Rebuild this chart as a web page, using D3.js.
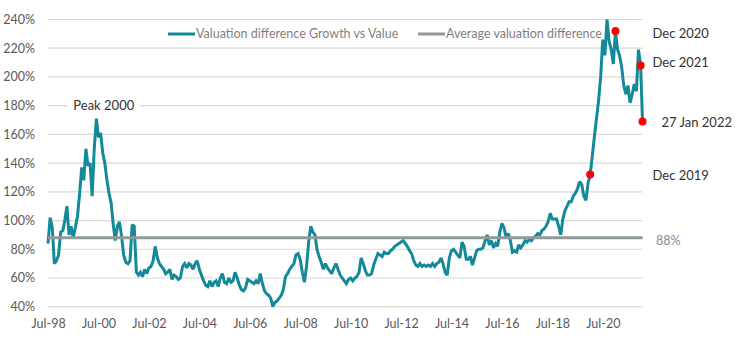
<!DOCTYPE html>
<html>
<head>
<meta charset="utf-8">
<script src="https://cdn.jsdelivr.net/npm/d3@7"></script>
<style>
  body { margin: 0; background: #fff; }
  svg { display: block; font-family: Lato, "Open Sans", sans-serif; }
</style>
</head>
<body>
<div class="chart"></div>
<script>
// month-end values, starting Jun 1998
const firstMonth = new Date(1998, 6, 1);
const monthlyValues = [
  84, 102, 95, 70, 72, 76, 92,                        // 1998 Jun-Dec
  93, 100, 110, 90, 96, 88, 95, 103, 118, 137, 128, 150, // 1999
  138, 140, 117, 150, 171, 158, 161, 147, 140, 128, 119, 112, // 2000
  97, 86, 96, 99, 89, 76, 71, 70, 72, 97, 96, 64,     // 2001
  62, 64, 61, 66, 63, 67, 68, 72, 82, 74, 70, 68,     // 2002
  66, 63, 64, 66, 59, 62, 61, 59, 60, 68, 70, 67,     // 2003
  70, 69, 66, 70, 72, 66, 62, 58, 55, 54, 58, 54,     // 2004
  57, 58, 54, 60, 63, 57, 56, 60, 57, 58, 64, 60,     // 2005
  55, 52, 51, 53, 59, 58, 57, 56, 58, 56, 63, 56,     // 2006
  51, 49, 48, 46, 40, 43, 44, 46, 48, 52, 61, 63,     // 2007
  66, 68, 70, 76, 77, 73, 64, 57, 68, 85, 96, 92,     // 2008
  90, 80, 75, 71, 66, 70, 67, 65, 63, 67, 70, 66,     // 2009
  62, 60, 58, 56, 59, 60, 58, 60, 61, 64, 74, 70,     // 2010
  65, 62, 62, 63, 69, 73, 77, 76, 75, 78, 77, 77,     // 2011
  79, 80, 82, 83, 84, 85, 86, 84, 82, 79, 77, 72,     // 2012
  69, 68, 70, 68, 69, 68, 69, 68, 70, 68, 70, 71,     // 2013
  74, 70, 64, 62, 74, 79, 80, 78, 76, 74, 85, 82,     // 2014
  73, 73, 75, 69, 74, 79, 80, 80, 81, 86, 90, 83,     // 2015
  86, 81, 84, 82, 92, 98, 95, 88, 91, 86, 78, 79,     // 2016
  78, 83, 81, 83, 86, 85, 87, 86, 88, 89, 91, 90,     // 2017
  93, 94, 96, 99, 105, 101, 101, 101, 96, 90, 101, 107, // 2018
  110, 113, 113, 117, 119, 122, 127, 125, 117, 114, 126, 132, // 2019
  145, 158, 171, 183, 200, 226, 215, 240, 225, 219, 209, 232, // 2020
  219, 215, 207, 194, 188, 194, 182, 188, 195, 190, 219, 208  // 2021
];
const lastDate = "2022-01-27";
const lastValue = 169;

const averageValue = 88;

const markerDates = ["2019-12-31", "2020-12-31", "2021-12-31", "2022-01-27"];
const markerValues = [132, 232, 208, 169];
const markerLabels = ["Dec 2019", "Dec 2020", "Dec 2021", "27 Jan 2022"];
const markerLabelShift = [0, 0, 0, 9];

const yTicks = [40, 60, 80, 100, 120, 140, 160, 180, 200, 220, 240];
const xTickYears = [1998, 2000, 2002, 2004, 2006, 2008, 2010, 2012, 2014, 2016, 2018, 2020];

const legendNames = ["Valuation difference Growth vs Value", "Average valuation difference"];

// setup chart
const width = 750;
const height = 339;
const plotLeft = 48;
const plotRight = 642.5;
const plotTop = 19.5;
const plotBottom = 306.7;
const teal = "#14899a";
const grey = "#8f9a9a";
const parse = d3.timeParse("%Y-%m-%d");

const svg = d3.select(".chart")
  .append("svg")
  .attr("width", width)
  .attr("height", height);

const series = monthlyValues.map((v, i) => ({
  date: d3.timeDay.offset(d3.timeMonth.offset(firstMonth, i), -1),
  value: v
}));
series.push({ date: parse(lastDate), value: lastValue });

const xScale = d3.scaleTime()
  .domain([series[0].date, parse(lastDate)])
  .range([plotLeft, plotRight]);
const yScale = d3.scaleLinear()
  .domain([40, 240])
  .range([plotBottom, plotTop]);

// gridlines
svg.append("g")
  .selectAll("line")
  .data(yTicks)
  .join("line")
  .attr("x1", plotLeft)
  .attr("x2", plotRight)
  .attr("y1", d => yScale(d))
  .attr("y2", d => yScale(d))
  .attr("stroke", "#d9d9d9")
  .attr("stroke-width", 1.2);

// y axis
const yAxis = d3.axisLeft(yScale)
  .tickValues(yTicks)
  .tickSize(0)
  .tickPadding(0)
  .tickFormat(d => d + "%");
svg.append("g")
  .attr("transform", "translate(35,0)")
  .call(yAxis)
  .call(g => g.select(".domain").remove())
  .call(g => g.selectAll("text")
    .attr("fill", "#595959")
    .attr("font-size", 12.5)
    .attr("font-family", "Lato, sans-serif"));

// x axis
const xAxis = d3.axisBottom(xScale)
  .tickValues(xTickYears.map(y => new Date(y, 6, 1)))
  .tickSize(0)
  .tickPadding(0)
  .tickFormat(d3.timeFormat("%b-%y"));
svg.append("g")
  .attr("transform", "translate(0,319)")
  .call(xAxis)
  .call(g => g.select(".domain").remove())
  .call(g => g.selectAll("text")
    .attr("fill", "#595959")
    .attr("font-size", 12.5)
    .attr("font-family", "Lato, sans-serif"));

// peak label with white box
const peakX = xScale(new Date(2000, 8, 15));
svg.append("rect")
  .attr("x", peakX - 36)
  .attr("y", yScale(180) - 9)
  .attr("width", 72)
  .attr("height", 18)
  .attr("fill", "#fff");
svg.append("text")
  .attr("x", peakX)
  .attr("y", yScale(180))
  .attr("dy", "0.35em")
  .attr("text-anchor", "middle")
  .attr("font-size", 13)
  .attr("fill", "#333")
  .text("Peak 2000");

// main line
const line = d3.line()
  .x(d => xScale(d.date))
  .y(d => yScale(d.value));
svg.append("path")
  .datum(series)
  .attr("d", line)
  .attr("fill", "none")
  .attr("stroke", teal)
  .attr("stroke-width", 3)
  .attr("stroke-linejoin", "miter")
  .attr("stroke-miterlimit", 2);

// average line
svg.append("line")
  .attr("x1", plotLeft)
  .attr("x2", plotRight)
  .attr("y1", yScale(averageValue))
  .attr("y2", yScale(averageValue))
  .attr("stroke", grey)
  .attr("stroke-width", 3);
svg.append("text")
  .attr("x", 656)
  .attr("y", yScale(averageValue) + 3)
  .attr("dy", "0.35em")
  .attr("font-size", 12.5)
  .attr("fill", "#8c8c8c")
  .text(averageValue + "%");

// markers
svg.append("g")
  .selectAll("circle")
  .data(markerDates)
  .join("circle")
  .attr("cx", d => xScale(parse(d)))
  .attr("cy", (d, i) => yScale(markerValues[i]))
  .attr("r", 4)
  .attr("fill", "#ff0000");
svg.append("g")
  .selectAll("text")
  .data(markerLabels)
  .join("text")
  .attr("x", (d, i) => 652.5 + markerLabelShift[i])
  .attr("y", (d, i) => yScale(markerValues[i]) + (i === 1 ? 2 : i === 2 ? -3 : 1))
  .attr("dy", "0.35em")
  .attr("font-size", 13)
  .attr("fill", "#333")
  .text(d => d);

// legend
const legendX = [168, 418];
const legendColors = [teal, grey];
const legend = svg.append("g")
  .selectAll("g")
  .data(legendNames)
  .join("g")
  .attr("transform", (d, i) => `translate(${legendX[i]},34)`);
legend.append("line")
  .attr("x1", 0)
  .attr("x2", 27)
  .attr("stroke", (d, i) => legendColors[i])
  .attr("stroke-width", 3);
legend.append("text")
  .attr("x", 28)
  .attr("dy", "0.35em")
  .attr("font-size", 12.5)
  .attr("fill", "#7f7f7f")
  .text(d => d);
</script>
</body>
</html>
